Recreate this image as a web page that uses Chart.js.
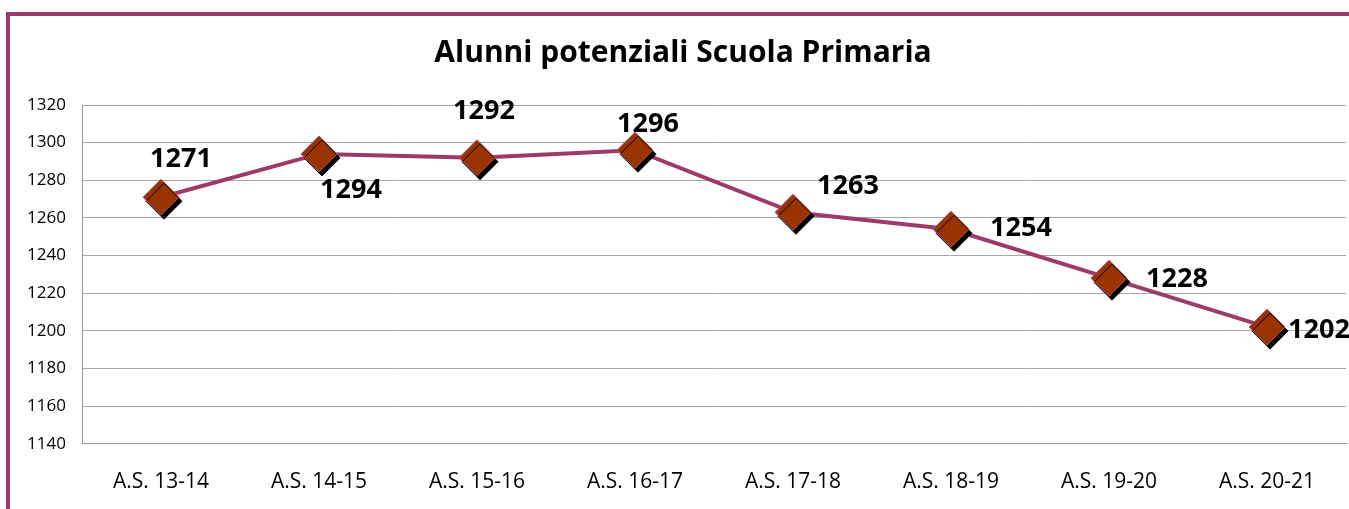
<!DOCTYPE html>
<html><head><meta charset="utf-8">
<script src="https://cdn.jsdelivr.net/npm/chart.js@4/dist/chart.umd.min.js"></script>
<style>
html,body{margin:0;padding:0;background:#fff;overflow:hidden;}
#wrap{position:relative;width:1349px;height:509px;overflow:hidden;}
#frame{position:absolute;left:6px;top:12px;width:1400px;height:600px;border:4px solid #9E3A6A;pointer-events:none;}
</style></head><body>
<div id="wrap"><canvas id="c" width="1349" height="509"></canvas><div id="frame"></div></div>
<script>
const categories = ["A.S. 13-14","A.S. 14-15","A.S. 15-16","A.S. 16-17","A.S. 17-18","A.S. 18-19","A.S. 19-20","A.S. 20-21"];
const alunni = [1271,1294,1292,1296,1263,1254,1228,1202];
const yMin = 1140, yMax = 1320, yStep = 20;
const titleText = "Alunni potenziali Scuola Primaria";

// label placement relative to each marker (style only)
const labelOffsets = [[20,-38],[32,36],[7,-46],[13,-26],[55,-26],[70,-1],[68,1],[52,3]];

const shadowPlugin = {
  id:'shadow',
  beforeDatasetDraw(chart,args){
    if(args.index===0){
      const ctx=chart.ctx; ctx.save();
      ctx.shadowColor='#000'; ctx.shadowOffsetX=3; ctx.shadowOffsetY=4; ctx.shadowBlur=0;
    }
  },
  afterDatasetDraw(chart,args){ if(args.index===0) chart.ctx.restore(); }
};
const labelPlugin = {
  id:'lbl',
  afterDatasetsDraw(chart){
    const meta=chart.getDatasetMeta(0); const ctx=chart.ctx;
    ctx.save();
    ctx.font="bold 27px 'Open Sans'"; ctx.fillStyle='#000';
    ctx.textAlign='center'; ctx.textBaseline='middle';
    meta.data.forEach((p,i)=>{
      const o=labelOffsets[i];
      ctx.fillText(String(chart.data.datasets[0].data[i]), p.x+o[0], p.y+o[1]);
    });
    ctx.restore();
  }
};

new Chart(document.getElementById('c'),{
  type:'line',
  data:{labels:categories,datasets:[
    {data:alunni,showLine:false,pointStyle:'rectRot',pointRadius:18,pointHoverRadius:18,
     pointBackgroundColor:'#993300',pointBorderColor:'#B0507A',pointBorderWidth:1,order:0},
    {data:alunni,borderColor:'#9E3A6A',borderWidth:4,pointRadius:0,tension:0,order:1}
  ]},
  options:{
    responsive:false,animation:false,
    layout:{autoPadding:false,padding:{left:20,right:3,top:0,bottom:-12}},
    plugins:{legend:{display:false},tooltip:{enabled:false},
      title:{display:true,text:titleText,color:'#000',font:{family:"'Open Sans'",size:30,weight:'bold'},padding:{top:35,bottom:34}}},
    scales:{
      x:{offset:true,grid:{display:false,drawTicks:false},border:{display:true,color:'#999',width:1},
         ticks:{color:'#000',font:{family:"'Open Sans'",size:21},padding:26,maxRotation:0}},
      y:{min:yMin,max:yMax,afterFit(s){s.width=62;},
         grid:{color:'#a6a6a6',drawTicks:false},border:{display:true,color:'#999',width:1},
         ticks:{stepSize:yStep,color:'#000',font:{family:"'Open Sans'",size:17},padding:16,callback:v=>String(v)}}
    }
  },
  plugins:[shadowPlugin,labelPlugin]
});
</script></body></html>
